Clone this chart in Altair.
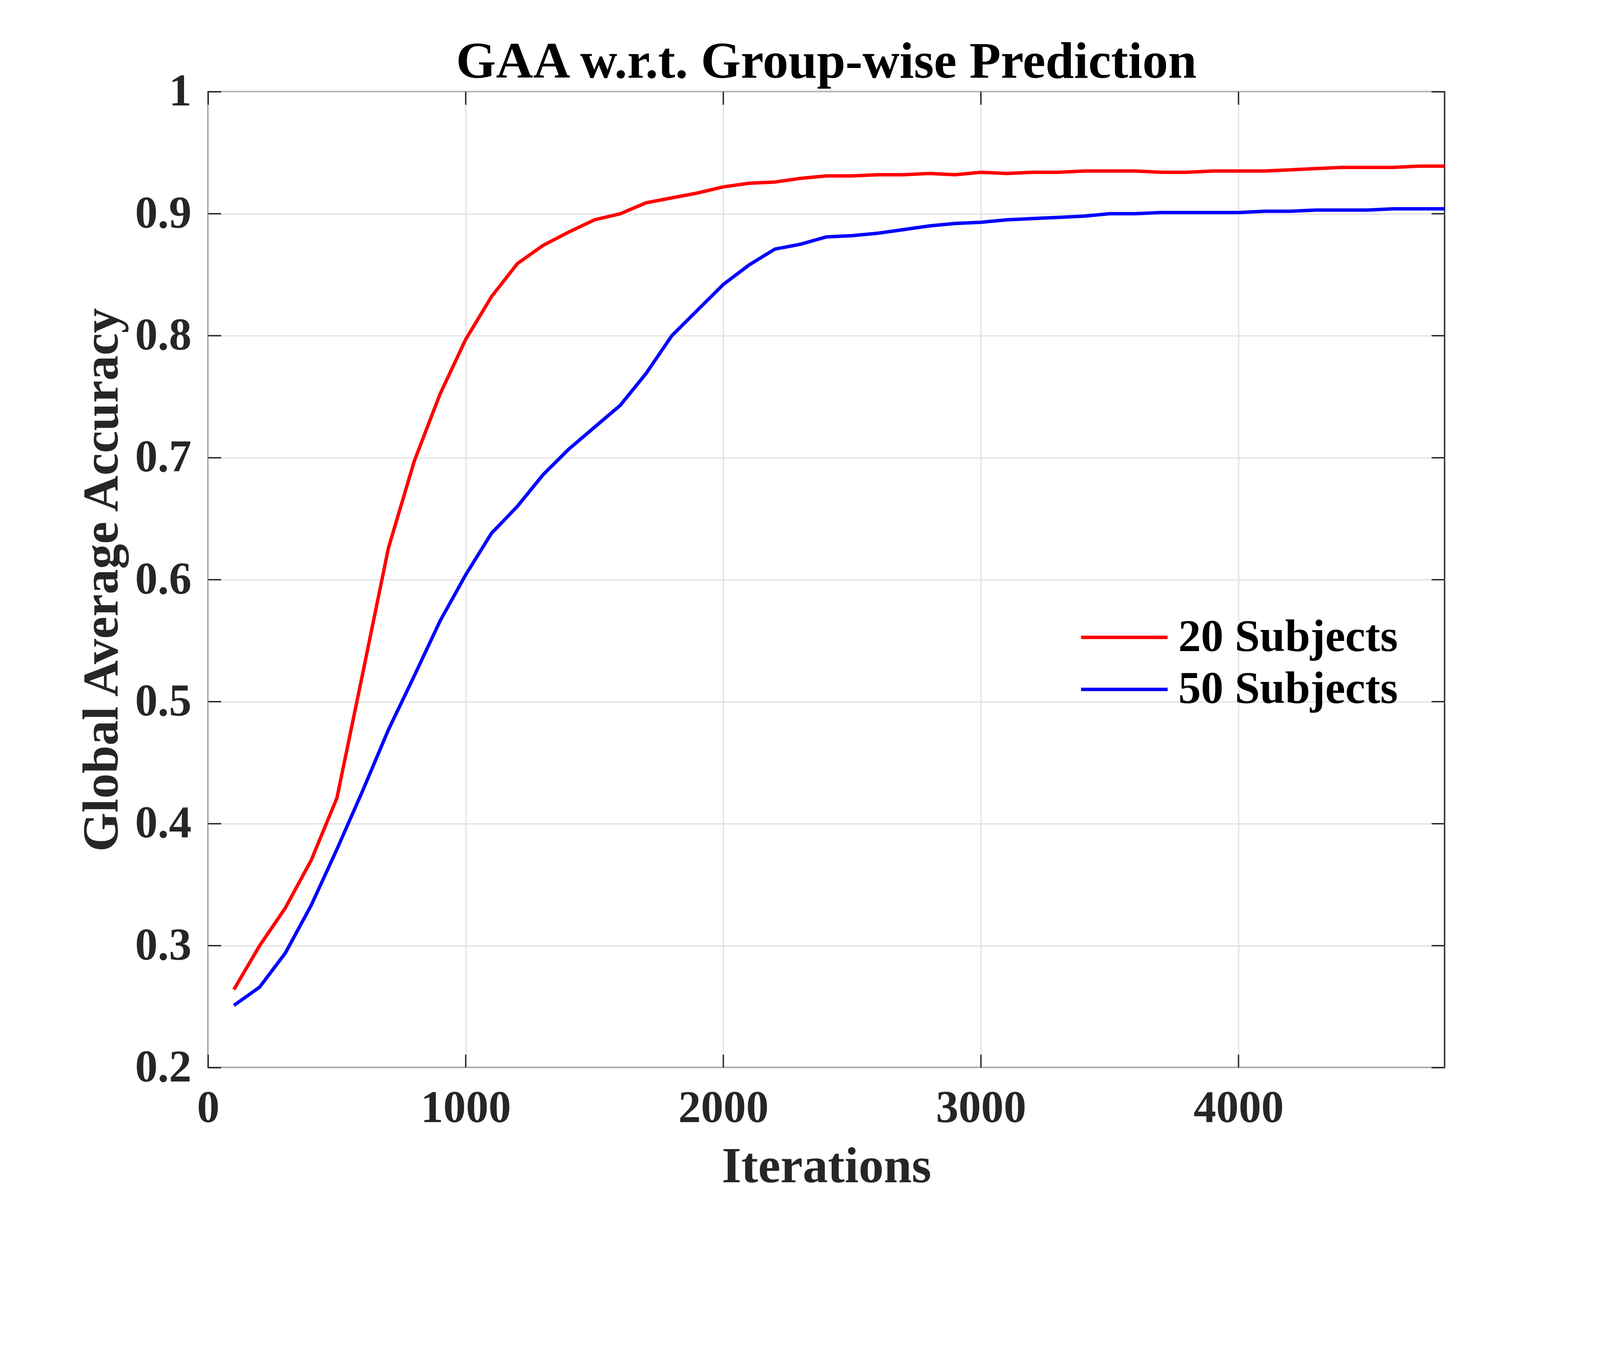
import altair as alt
import pandas as pd

# ---- data ----
iterations = [100, 200, 300, 400, 500, 600, 700, 800, 900, 1000,
              1100, 1200, 1300, 1400, 1500, 1600, 1700, 1800, 1900, 2000,
              2100, 2200, 2300, 2400, 2500, 2600, 2700, 2800, 2900, 3000,
              3100, 3200, 3300, 3400, 3500, 3600, 3700, 3800, 3900, 4000,
              4100, 4200, 4300, 4400, 4500, 4600, 4700, 4800]

acc_20 = [0.264, 0.300, 0.331, 0.370, 0.421, 0.523, 0.626, 0.697, 0.752, 0.797,
          0.832, 0.859, 0.874, 0.885, 0.895, 0.900, 0.909, 0.913, 0.917, 0.922,
          0.925, 0.926, 0.929, 0.931, 0.931, 0.932, 0.932, 0.933, 0.932, 0.934,
          0.933, 0.934, 0.934, 0.935, 0.935, 0.935, 0.934, 0.934, 0.935, 0.935,
          0.935, 0.936, 0.937, 0.938, 0.938, 0.938, 0.939, 0.939]

acc_50 = [0.251, 0.266, 0.294, 0.333, 0.379, 0.427, 0.477, 0.521, 0.566, 0.604,
          0.638, 0.660, 0.686, 0.707, 0.725, 0.743, 0.769, 0.800, 0.821, 0.842,
          0.858, 0.871, 0.875, 0.881, 0.882, 0.884, 0.887, 0.890, 0.892, 0.893,
          0.895, 0.896, 0.897, 0.898, 0.900, 0.900, 0.901, 0.901, 0.901, 0.901,
          0.902, 0.902, 0.903, 0.903, 0.903, 0.904, 0.904, 0.904]

series_names = ["20 Subjects", "50 Subjects"]
series_colors = ["#ff0000", "#0000ff"]
x_ticks = [0, 1000, 2000, 3000, 4000]
y_ticks = [0.2, 0.3, 0.4, 0.5, 0.6, 0.7, 0.8, 0.9, 1.0]

# ---- layout constants ----
W, H = 3613, 2852
TICK = 38
FONT = "Liberation Serif"
INK = "#262626"

df = pd.DataFrame({
    "iter": iterations * 2,
    "acc": acc_20 + acc_50,
    "series": [series_names[0]] * len(iterations) + [series_names[1]] * len(iterations),
})
df_yt = pd.DataFrame({"acc": y_ticks})
df_xt = pd.DataFrame({"iter": x_ticks})

x_axis = alt.Axis(values=x_ticks, format="d", grid=True, ticks=False, domain=False,
                  labelFlush=False, labelOverlap=False, labelPadding=55,
                  labelLimit=2000, titlePadding=33)
y_axis = alt.Axis(values=y_ticks, grid=True, ticks=False, domain=False,
                  labelExpr="datum.value == 1 ? '1' : format(datum.value, '.1f')",
                  labelOverlap=False, labelPadding=49, labelLimit=2000,
                  titlePadding=34)

x_enc = alt.X("iter:Q", title="Iterations",
              scale=alt.Scale(domain=[0, 4800], nice=False, zero=False), axis=x_axis)
y_enc = alt.Y("acc:Q", title="Global Average Accuracy",
              scale=alt.Scale(domain=[0.2, 1.0], nice=False, zero=False), axis=y_axis)

lines = alt.Chart(df).mark_line(strokeWidth=10).encode(
    x=x_enc,
    y=y_enc,
    color=alt.Color(
        "series:N",
        scale=alt.Scale(domain=series_names, range=series_colors),
        legend=alt.Legend(
            title=None, orient="none", legendX=2672, legendY=1526,
            direction="vertical", padding=0, offset=0,
            symbolType="M-3,0H1", symbolSize=16000, symbolStrokeWidth=10,
            labelFont=FONT, labelFontSize=132, labelFontWeight="bold",
            labelColor="#000000", labelOffset=26, rowPadding=17,
            labelBaseline="middle", labelLimit=2000,
        ),
    ),
)

tick_left = alt.Chart(df_yt).mark_rule(color=INK, strokeWidth=4).encode(
    y=y_enc, x=alt.value(0), x2=alt.value(TICK))
tick_right = alt.Chart(df_yt).mark_rule(color=INK, strokeWidth=4).encode(
    y=y_enc, x=alt.value(W - TICK), x2=alt.value(W))
tick_bottom = alt.Chart(df_xt).mark_rule(color=INK, strokeWidth=4).encode(
    x=x_enc, y=alt.value(H), y2=alt.value(H - TICK))
tick_top = alt.Chart(df_xt).mark_rule(color=INK, strokeWidth=4).encode(
    x=x_enc, y=alt.value(0), y2=alt.value(TICK))

chart = alt.layer(lines, tick_left, tick_right, tick_bottom, tick_top).properties(
    width=W, height=H,
    title=alt.Title("GAA w.r.t. Group-wise Prediction", font=FONT, fontSize=150,
                    fontWeight="bold", color="#000000", anchor="middle",
                    baseline="alphabetic", offset=-175),
    autosize=alt.AutoSizeParams(type="none"),
    padding={"left": 599, "top": 40, "right": 445, "bottom": 205},
    background="#ffffff",
).configure_view(
    stroke=INK, strokeWidth=4
).configure_axis(
    labelFont=FONT, labelFontSize=132, labelFontWeight="bold", labelColor=INK,
    titleFont=FONT, titleFontSize=147, titleFontWeight="bold", titleColor=INK,
    gridColor="#dedede", gridWidth=3,
)

chart.save("out.html", embed_options={"renderer": "svg", "actions": False})
